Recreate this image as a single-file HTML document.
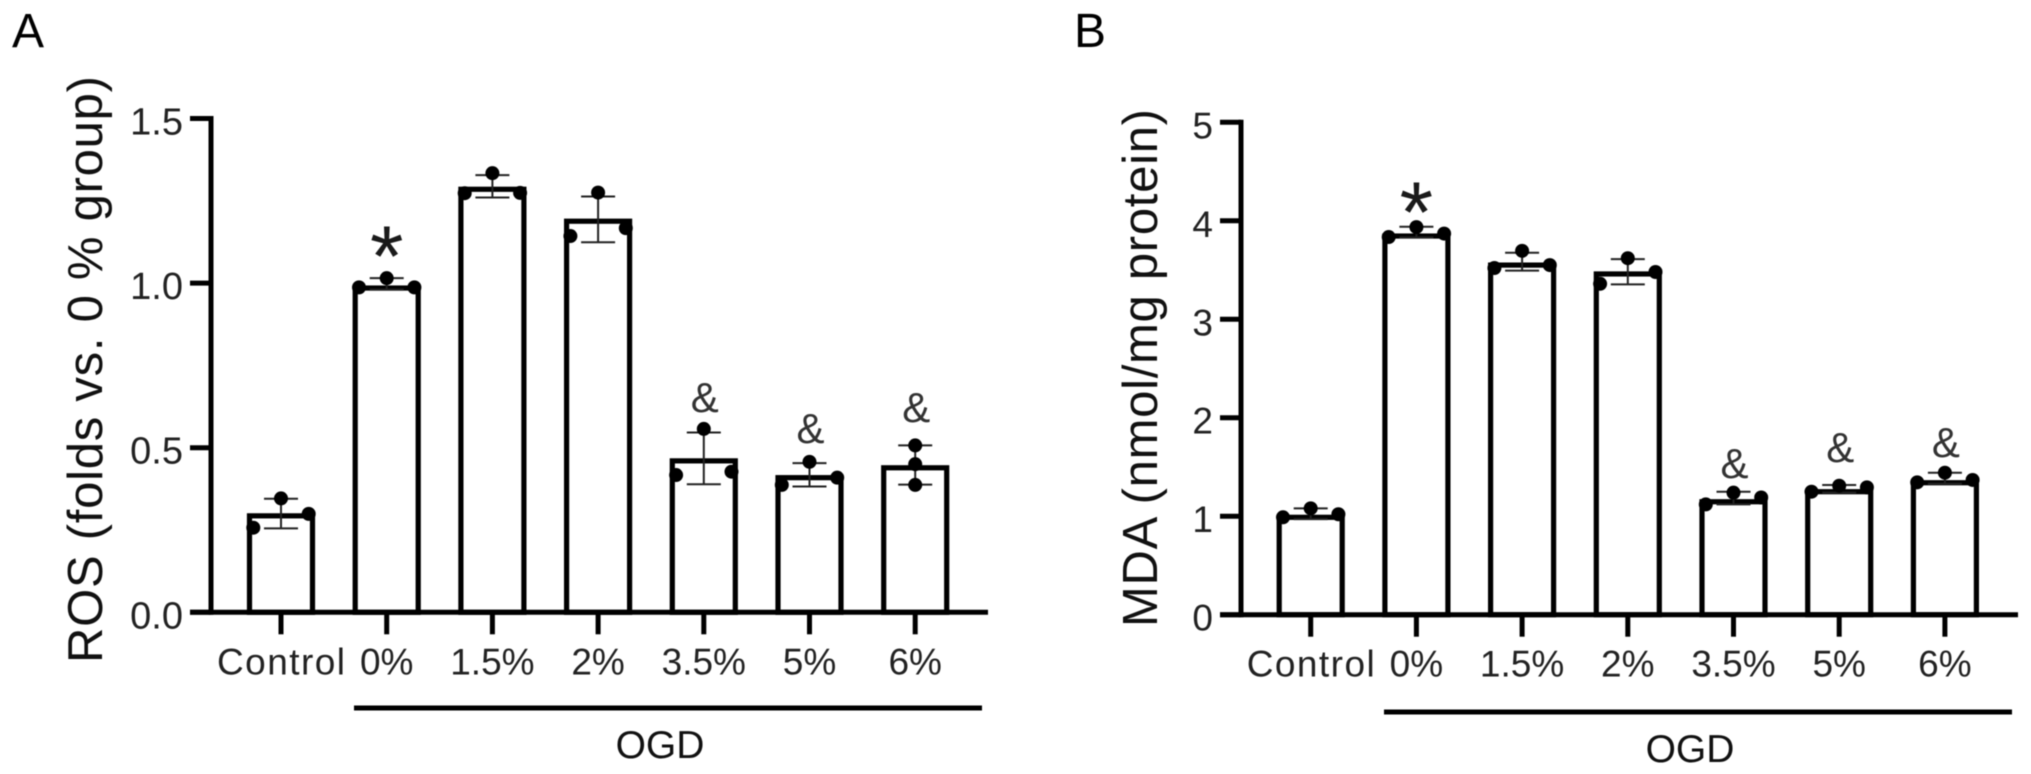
<!DOCTYPE html>
<html lang="en">
<head>
<meta charset="utf-8">
<title>ROS and MDA levels by OGD percentage</title>
<style>
  html, body { margin: 0; padding: 0; background: #fff; }
  body { width: 2031px; height: 774px; overflow: hidden; }
  svg { display: block; filter: blur(0.6px); }
  text { font-family: "Liberation Sans", sans-serif; }
</style>
</head>
<body>
<svg id="figure" xmlns="http://www.w3.org/2000/svg" width="2031" height="774" viewBox="0 0 2031 774">
  <rect x="0" y="0" width="2031" height="774" fill="#ffffff"/>
</svg>
<script>
// Shared categories
const categories = ['Control', '0%', '1.5%', '2%', '3.5%', '5%', '6%'];
const dotLayoutA = ['spread', 'spread', 'spread', 'spread', 'spread', 'spread', 'column'];
const dotLayoutB = ['spread', 'spread', 'spread', 'spread', 'spread', 'spread', 'spread'];

// Panel A: ROS
const ticksA = [0, 0.5, 1.0, 1.5];
const tickLabelsA = ['0.0', '0.5', '1.0', '1.5'];
const barsA = [0.293, 0.985, 1.285, 1.188, 0.46, 0.409, 0.439];
const errHighA = [0.345, 1.015, 1.328, 1.263, 0.546, 0.453, 0.507];
const errLowA = [0.255, 0.98, 1.26, 1.124, 0.389, 0.382, 0.388];
const dotsFirstA = [0.257, 0.987, 1.273, 1.143, 0.417, 0.387, 0.387];
const dotsMiddleA = [0.346, 1.015, 1.334, 1.275, 0.557, 0.457, 0.45];
const dotsLastA = [0.299, 0.987, 1.274, 1.167, 0.427, 0.409, 0.507];
const symbolsA = ['', '*', '', '', '&', '&', '&'];
const symbolValuesA = [0, 1.1, 0, 0, 0.608, 0.514, 0.578];

// Panel B: MDA
const ticksB = [0, 1, 2, 3, 4, 5];
const tickLabelsB = ['0', '1', '2', '3', '4', '5'];
const barsB = [0.989, 3.845, 3.55, 3.46, 1.147, 1.249, 1.34];
const errHighB = [1.08, 3.94, 3.675, 3.61, 1.249, 1.317, 1.442];
const errLowB = [0.97, 3.83, 3.494, 3.354, 1.12, 1.24, 1.33];
const dotsFirstB = [0.989, 3.835, 3.52, 3.36, 1.12, 1.249, 1.344];
const dotsMiddleB = [1.08, 3.936, 3.695, 3.62, 1.239, 1.31, 1.442];
const dotsLastB = [1.02, 3.87, 3.55, 3.48, 1.19, 1.293, 1.368];
const symbolsB = ['', '*', '', '', '&', '&', '&'];
const symbolValuesB = [0, 4.15, 0, 0, 1.388, 1.55, 1.6];

const SVG_NS = 'http://www.w3.org/2000/svg';
const root = document.getElementById('figure');

function shape(parent, tag, attrs) {
  const el = document.createElementNS(SVG_NS, tag);
  for (const key in attrs) el.setAttribute(key, attrs[key]);
  parent.appendChild(el);
  return el;
}

function drawPanel(p) {
  const g = shape(root, 'g', {});
  
  

  const yScale = v => p.yZero - (v - p.ticks[0]) * (p.yZero - p.yTop) / (p.ticks[p.ticks.length - 1] - p.ticks[0]);
  const xScale = i => p.xFirst + i * p.xStep;

  // Bars
  p.bars.forEach((v, i) => {
    const bar = shape(g, 'rect', {
      x: xScale(i) - 31.5, y: yScale(v), width: 63, height: p.yZero - yScale(v),
      fill: '#ffffff', stroke: '#000000', 'stroke-width': 5.2
    });
    
    
  });

  // Y axis
  const yAxis = shape(g, 'line', {
    x1: p.axisX, x2: p.axisX, y1: p.yTop - 2.5, y2: p.yZero + 2.5, stroke: '#000', 'stroke-width': 5
  });
  
  

  p.ticks.forEach((t, i) => {
    const tick = shape(g, 'line', {
      x1: p.axisX - 21, x2: p.axisX, y1: yScale(t), y2: yScale(t), stroke: '#000', 'stroke-width': 5
    });
    
    
    const label = shape(g, 'text', {
      x: p.axisX - 28, y: yScale(t) + 16, 'text-anchor': 'end', 'font-size': p.tickFont, fill: '#222222'
    });
    label.textContent = p.tickLabels[i];
    
    
  });

  // X axis
  const xAxis = shape(g, 'line', {
    x1: p.axisX - 21, x2: p.axisEnd, y1: p.yZero, y2: p.yZero, stroke: '#000', 'stroke-width': 5
  });
  
  

  categories.forEach((c, i) => {
    const tick = shape(g, 'line', {
      x1: xScale(i), x2: xScale(i), y1: p.yZero, y2: p.yZero + 22, stroke: '#000', 'stroke-width': 5
    });
    
    
    const label = shape(g, 'text', {
      x: xScale(i), y: p.yZero + 62, 'text-anchor': 'middle', 'font-size': 37, fill: '#222222'
    });
    if (c.length > 4) label.setAttribute('textLength', 128);
    label.textContent = c;
    
    
  });

  // Error bars
  p.bars.forEach((v, i) => {
    const x = xScale(i);
    const stem = shape(g, 'line', {
      x1: x, x2: x, y1: yScale(p.errHigh[i]), y2: yScale(p.errLow[i]), stroke: '#222', 'stroke-width': 2
    });
    
    
    const capTop = shape(g, 'line', {
      x1: x - 17, x2: x + 17, y1: yScale(p.errHigh[i]), y2: yScale(p.errHigh[i]), stroke: '#222', 'stroke-width': 2
    });
    
    
    const capLow = shape(g, 'line', {
      x1: x - 17, x2: x + 17, y1: yScale(p.errLow[i]), y2: yScale(p.errLow[i]), stroke: '#222', 'stroke-width': 2
    });
    
    
  });

  // Data points
  p.bars.forEach((v, i) => {
    const spread = p.layout[i] === 'spread' ? 27.7 : 0;
    const points = [
      [xScale(i) - spread, p.dotsFirst[i]],
      [xScale(i), p.dotsMiddle[i]],
      [xScale(i) + spread, p.dotsLast[i]]
    ];
    points.forEach((pt, k) => {
      const dot = shape(g, 'circle', { cx: pt[0], cy: yScale(pt[1]), r: 7, fill: '#000' });
      
      
    });
  });

  // Significance symbols
  p.symbols.forEach((s, i) => {
    if (!s) return;
    const isStar = s === '*';
    const mark = shape(g, 'text', {
      x: xScale(i) + (isStar ? 0 : 1),
      y: yScale(p.symbolValues[i]) + (isStar ? 36 : 0),
      'text-anchor': 'middle',
      'font-size': isStar ? 86 : 42,
      fill: isStar ? '#1a1a1a' : '#333333'
    });
    mark.textContent = s;
    
    
  });

  // Y axis title
  const title = shape(g, 'text', {
    transform: 'translate(' + p.titleX + ',' + p.titleY + ') rotate(-90)',
    'font-size': 49, fill: '#111111', textLength: p.titleLength, lengthAdjust: 'spacing'
  });
  title.textContent = p.title;
  
  

  // OGD bracket and label
  const bracket = shape(g, 'line', {
    x1: p.bracketX1, x2: p.bracketX2, y1: p.bracketY, y2: p.bracketY, stroke: '#000', 'stroke-width': 5
  });
  
  

  const ogd = shape(g, 'text', {
    x: (p.bracketX1 + p.bracketX2) / 2 - 8, y: p.bracketY + 50, 'text-anchor': 'middle', 'font-size': 39, fill: '#111111'
  });
  ogd.textContent = 'OGD';
  
  

  // Panel letter
  const letter = shape(g, 'text', { x: p.letterX, y: 47, 'font-size': 48, fill: '#000' });
  letter.textContent = p.letter;
  
  
}

drawPanel({
  id: 'a', letter: 'A', letterX: 12, title: 'ROS (folds vs. 0 % group)',
  titleX: 102, titleY: 663, titleLength: 587,
  axisX: 211, axisEnd: 988, yZero: 612.3, yTop: 118.5, xFirst: 281, xStep: 105.7,
  tickFont: 38, ticks: ticksA, tickLabels: tickLabelsA,
  bars: barsA, errHigh: errHighA, errLow: errLowA,
  dotsFirst: dotsFirstA, dotsMiddle: dotsMiddleA, dotsLast: dotsLastA,
  layout: dotLayoutA, symbols: symbolsA, symbolValues: symbolValuesA,
  bracketX1: 354, bracketX2: 982, bracketY: 708
});

drawPanel({
  id: 'b', letter: 'B', letterX: 1074, title: 'MDA (nmol/mg protein)',
  titleX: 1157, titleY: 627, titleLength: 518,
  axisX: 1241, axisEnd: 2018, yZero: 614.7, yTop: 122.3, xFirst: 1310.7, xStep: 105.7,
  tickFont: 37, ticks: ticksB, tickLabels: tickLabelsB,
  bars: barsB, errHigh: errHighB, errLow: errLowB,
  dotsFirst: dotsFirstB, dotsMiddle: dotsMiddleB, dotsLast: dotsLastB,
  layout: dotLayoutB, symbols: symbolsB, symbolValues: symbolValuesB,
  bracketX1: 1384, bracketX2: 2012, bracketY: 712
});
</script>
</body>
</html>
